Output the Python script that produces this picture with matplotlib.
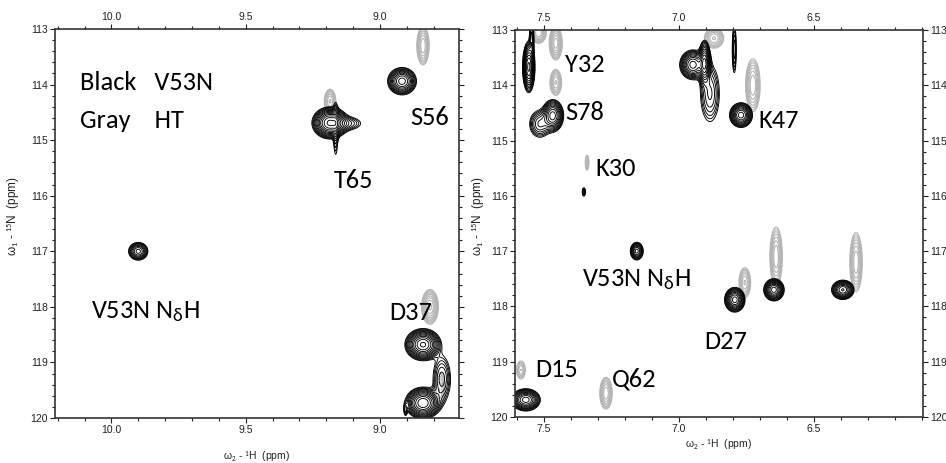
import numpy as np
import matplotlib
matplotlib.use('Agg')
import matplotlib.pyplot as plt
from matplotlib import font_manager
from matplotlib.ticker import MultipleLocator

# peak lists: 1H shift, 15N shift, 1H width, 15N width, height
black_h = [8.918, 9.186, 9.12, 9.165, 9.900, 8.840, 8.840, 8.770, 8.905,
           7.556, 7.545, 7.467, 7.515, 7.352, 6.948, 6.905, 6.885, 6.770, 6.795,
           7.156, 6.793, 6.648, 6.393, 7.567]
black_n = [113.94, 114.69, 114.70, 114.80, 117.00, 118.68, 119.73, 119.30, 119.85,
           113.67, 113.15, 114.55, 114.70, 115.93, 113.63, 113.60, 114.15, 114.54, 113.35,
           117.00, 117.88, 117.70, 117.70, 119.69]
black_wh = [0.024, 0.028, 0.035, 0.006, 0.018, 0.028, 0.028, 0.020, 0.004,
            0.010, 0.005, 0.018, 0.022, 0.004, 0.022, 0.010, 0.022, 0.019, 0.005,
            0.012, 0.017, 0.017, 0.019, 0.024]
black_wn = [0.11, 0.12, 0.08, 0.32, 0.08, 0.12, 0.12, 0.25, 0.07,
            0.20, 0.20, 0.13, 0.14, 0.05, 0.12, 0.18, 0.32, 0.10, 0.28,
            0.08, 0.10, 0.09, 0.08, 0.09]
black_amp = [1.0, 1.5, 0.2, 0.22, 0.6, 1.5, 1.4, 0.3, 0.2,
             1.2, 0.3, 1.0, 0.35, 0.25, 1.0, 1.1, 0.28, 1.0, 0.25,
             0.6, 1.0, 1.0, 0.9, 1.0]

gray_h = [8.840, 9.186, 8.814, 8.780,
          7.456, 7.456, 7.520, 7.340, 6.870, 6.726, 6.756, 6.640, 6.344, 7.585, 7.270]
gray_n = [113.30, 114.30, 118.00, 119.50,
          113.24, 113.95, 113.05, 115.40, 113.15, 114.00, 117.57, 117.10, 117.20, 119.15, 119.57]
gray_wh = [0.012, 0.012, 0.015, 0.015,
           0.012, 0.012, 0.015, 0.005, 0.020, 0.014, 0.012, 0.012, 0.012, 0.010, 0.012]
gray_wn = [0.18, 0.12, 0.15, 0.20,
           0.15, 0.13, 0.10, 0.10, 0.10, 0.25, 0.15, 0.28, 0.28, 0.10, 0.15]
gray_amp = [0.5, 0.4, 0.7, 0.3,
            0.6, 0.4, 0.5, 0.2, 0.4, 0.5, 0.4, 0.5, 0.5, 0.3, 0.5]

# residue labels (1H, 15N of label anchor)
left_labels = ['S56', 'T65', 'V53N N$_{\\delta}$H', 'D37']
left_lab_h = [8.888, 9.171, 10.074, 8.967]
left_lab_n = [114.60, 115.72, 118.09, 118.10]
right_labels = ['Y32', 'S78', 'K30', 'K47', 'V53N N$_{\\delta}$H', 'D27', 'D15', 'Q62']
right_lab_h = [7.422, 7.419, 7.311, 6.707, 7.359, 6.907, 7.533, 7.248]
right_lab_n = [113.63, 114.50, 115.50, 114.63, 117.52, 118.64, 119.15, 119.31]

available = {f.name for f in font_manager.fontManager.ttflist}
ann_font = 'Lato'
for cand in ['Carlito', 'Liberation Sans Narrow', 'Lato']:
    if cand in available:
        ann_font = cand
        break
ann_size = 19 if ann_font == 'Carlito' else 16.5

plt.rcParams['font.family'] = ['Liberation Sans', 'DejaVu Sans']
plt.rcParams['mathtext.fontset'] = 'custom'
plt.rcParams['mathtext.rm'] = ann_font
plt.rcParams['mathtext.it'] = ann_font
plt.rcParams['mathtext.sf'] = ann_font


def spectrum(hh, nn, ph, pn, wh, wn, amp):
    z = np.zeros_like(hh)
    for h0, n0, sh, sn, a in zip(ph, pn, wh, wn, amp):
        z += a * np.exp(-0.5 * (((hh - h0) / sh) ** 2 + ((nn - n0) / sn) ** 2))
    return z


def draw_panel(ax, xlim, labels, lab_h, lab_n):
    h = np.linspace(xlim[1], xlim[0], 1100)
    n = np.linspace(112.9, 120.1, 600)
    hh, nn = np.meshgrid(h, n)
    zg = spectrum(hh, nn, gray_h, gray_n, gray_wh, gray_wn, gray_amp)
    zb = spectrum(hh, nn, black_h, black_n, black_wh, black_wn, black_amp)
    ax.contour(hh, nn, zg, levels=0.08 * 1.3 ** np.arange(9), colors='#b4b4b4', linewidths=0.8)
    ax.contour(hh, nn, zb, levels=0.08 * 1.27 ** np.arange(13), colors='black', linewidths=0.65)
    ax.set_xlim(xlim)
    ax.set_ylim(120, 113)
    ax.xaxis.set_major_locator(MultipleLocator(0.5))
    ax.xaxis.set_minor_locator(MultipleLocator(0.1))
    ax.yaxis.set_major_locator(MultipleLocator(1))
    ax.yaxis.set_minor_locator(MultipleLocator(0.2))
    ax.xaxis.set_major_formatter(lambda v, p: f'{v:.1f}')
    ax.yaxis.set_major_formatter(lambda v, p: f'{v:.0f}')
    ax.tick_params(which='both', direction='out', top=True, right=True,
                   labeltop=True, labelsize=7.5, colors='#222222', width=0.8, pad=1.5)
    ax.tick_params(which='major', length=3.5)
    ax.tick_params(which='minor', length=2)
    for s in ax.spines.values():
        s.set_linewidth(1.2)
        s.set_color('#333333')
    ax.set_xlabel('ω$_2$ - $^1$H  (ppm)', fontsize=7.5, color='#222222')
    ax.set_ylabel('ω$_1$ - $^{15}$N  (ppm)', fontsize=8.5, color='#222222')
    for t, x, y in zip(labels, lab_h, lab_n):
        ax.text(x, y, t, ha='left', va='center', fontsize=ann_size, family=ann_font)


fig = plt.figure(figsize=(9.46, 4.63), dpi=100)
ax1 = fig.add_axes([0.0581, 0.0972, 0.4271, 0.8402])
ax2 = fig.add_axes([0.5444, 0.0994, 0.4313, 0.8359])

draw_panel(ax1, (10.21, 8.706), left_labels, left_lab_h, left_lab_n)
draw_panel(ax2, (7.607, 6.096), right_labels, right_lab_h, right_lab_n)

ax1.text(10.115, 113.97, 'Black   V53N', ha='left', va='center', fontsize=ann_size, family=ann_font)
ax1.text(10.115, 114.64, 'Gray    HT', ha='left', va='center', fontsize=ann_size, family=ann_font)

ax2.tick_params(labelright=True)
ax1.xaxis.set_label_coords(0.5, -0.08)
ax1.yaxis.set_label_coords(-0.082, 0.52)
ax2.xaxis.set_label_coords(0.5, -0.054)
ax2.yaxis.set_label_coords(-0.069, 0.52)

fig.savefig('out.png', dpi=100)
